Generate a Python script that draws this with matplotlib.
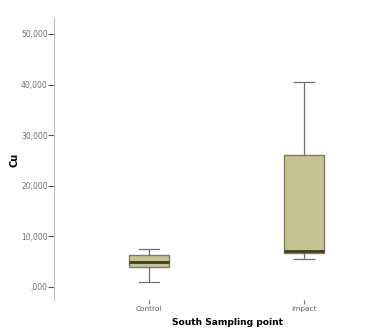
import matplotlib
matplotlib.use("Agg")
import matplotlib.pyplot as plt

# Summary statistics of Cu per sampling point
categories = ["Control", "Impact"]
whislo = [990, 5530]
q1 = [3950, 6620]
med = [4940, 7110]
q3 = [6320, 26090]
whishi = [7510, 40500]

y_ticks = [0, 10000, 20000, 30000, 40000, 50000]
y_tick_labels = [",000", "10,000", "20,000", "30,000", "40,000", "50,000"]

stats = [
    dict(label=c, whislo=lo, q1=a, med=m, q3=b, whishi=hi, fliers=[])
    for c, lo, a, m, b, hi in zip(categories, whislo, q1, med, q3, whishi)
]

fig = plt.figure(figsize=(3.77, 3.35), dpi=100)
W, H = 377, 335
ax = fig.add_axes([54 / W, 1 - 300 / H, (W - 54) / W, (300 - 18) / H])

box_color = "#c6c393"
edge_color = "#7d7c6a"
ax.bxp(
    stats,
    positions=[1, 2],
    widths=0.26,
    capwidths=0.125,
    patch_artist=True,
    showfliers=False,
    boxprops=dict(facecolor=box_color, edgecolor=edge_color, linewidth=1.0),
    medianprops=dict(color="#3e3e1c", linewidth=2.0),
    whiskerprops=dict(color="#6f6f6f", linewidth=0.9),
    capprops=dict(color="#6f6f6f", linewidth=0.9),
)

ax.set_xlim(0.387, 2.47)
ax.set_ylim(-2570, 53160)

ax.set_yticks(y_ticks)
ax.set_yticklabels(y_tick_labels)
ax.set_xticks([1, 2])
ax.set_xticklabels(categories)

for s in ["top", "right", "bottom"]:
    ax.spines[s].set_visible(False)
ax.spines["left"].set_color("#bdbdbd")
ax.spines["left"].set_linewidth(0.8)

ax.tick_params(axis="y", direction="out", length=4, width=0.8, color="#555555",
               labelsize=5.5, labelcolor="#707070", pad=0.5)
ax.tick_params(axis="x", direction="out", length=3, width=0.8, color="#777777",
               labelsize=5.3, labelcolor="#606060", pad=1)

ax.set_ylabel("Cu", fontsize=7, fontweight="bold")
ax.set_xlabel("South Sampling point", fontsize=6.6, fontweight="bold")
ax.xaxis.set_label_coords((227 - 54) / (W - 54), -(318 - 300) / (300 - 18))
ax.yaxis.set_label_coords(-(54 - 19) / (W - 54), (300 - 160) / (300 - 18))

fig.savefig("out.png", dpi=100)
